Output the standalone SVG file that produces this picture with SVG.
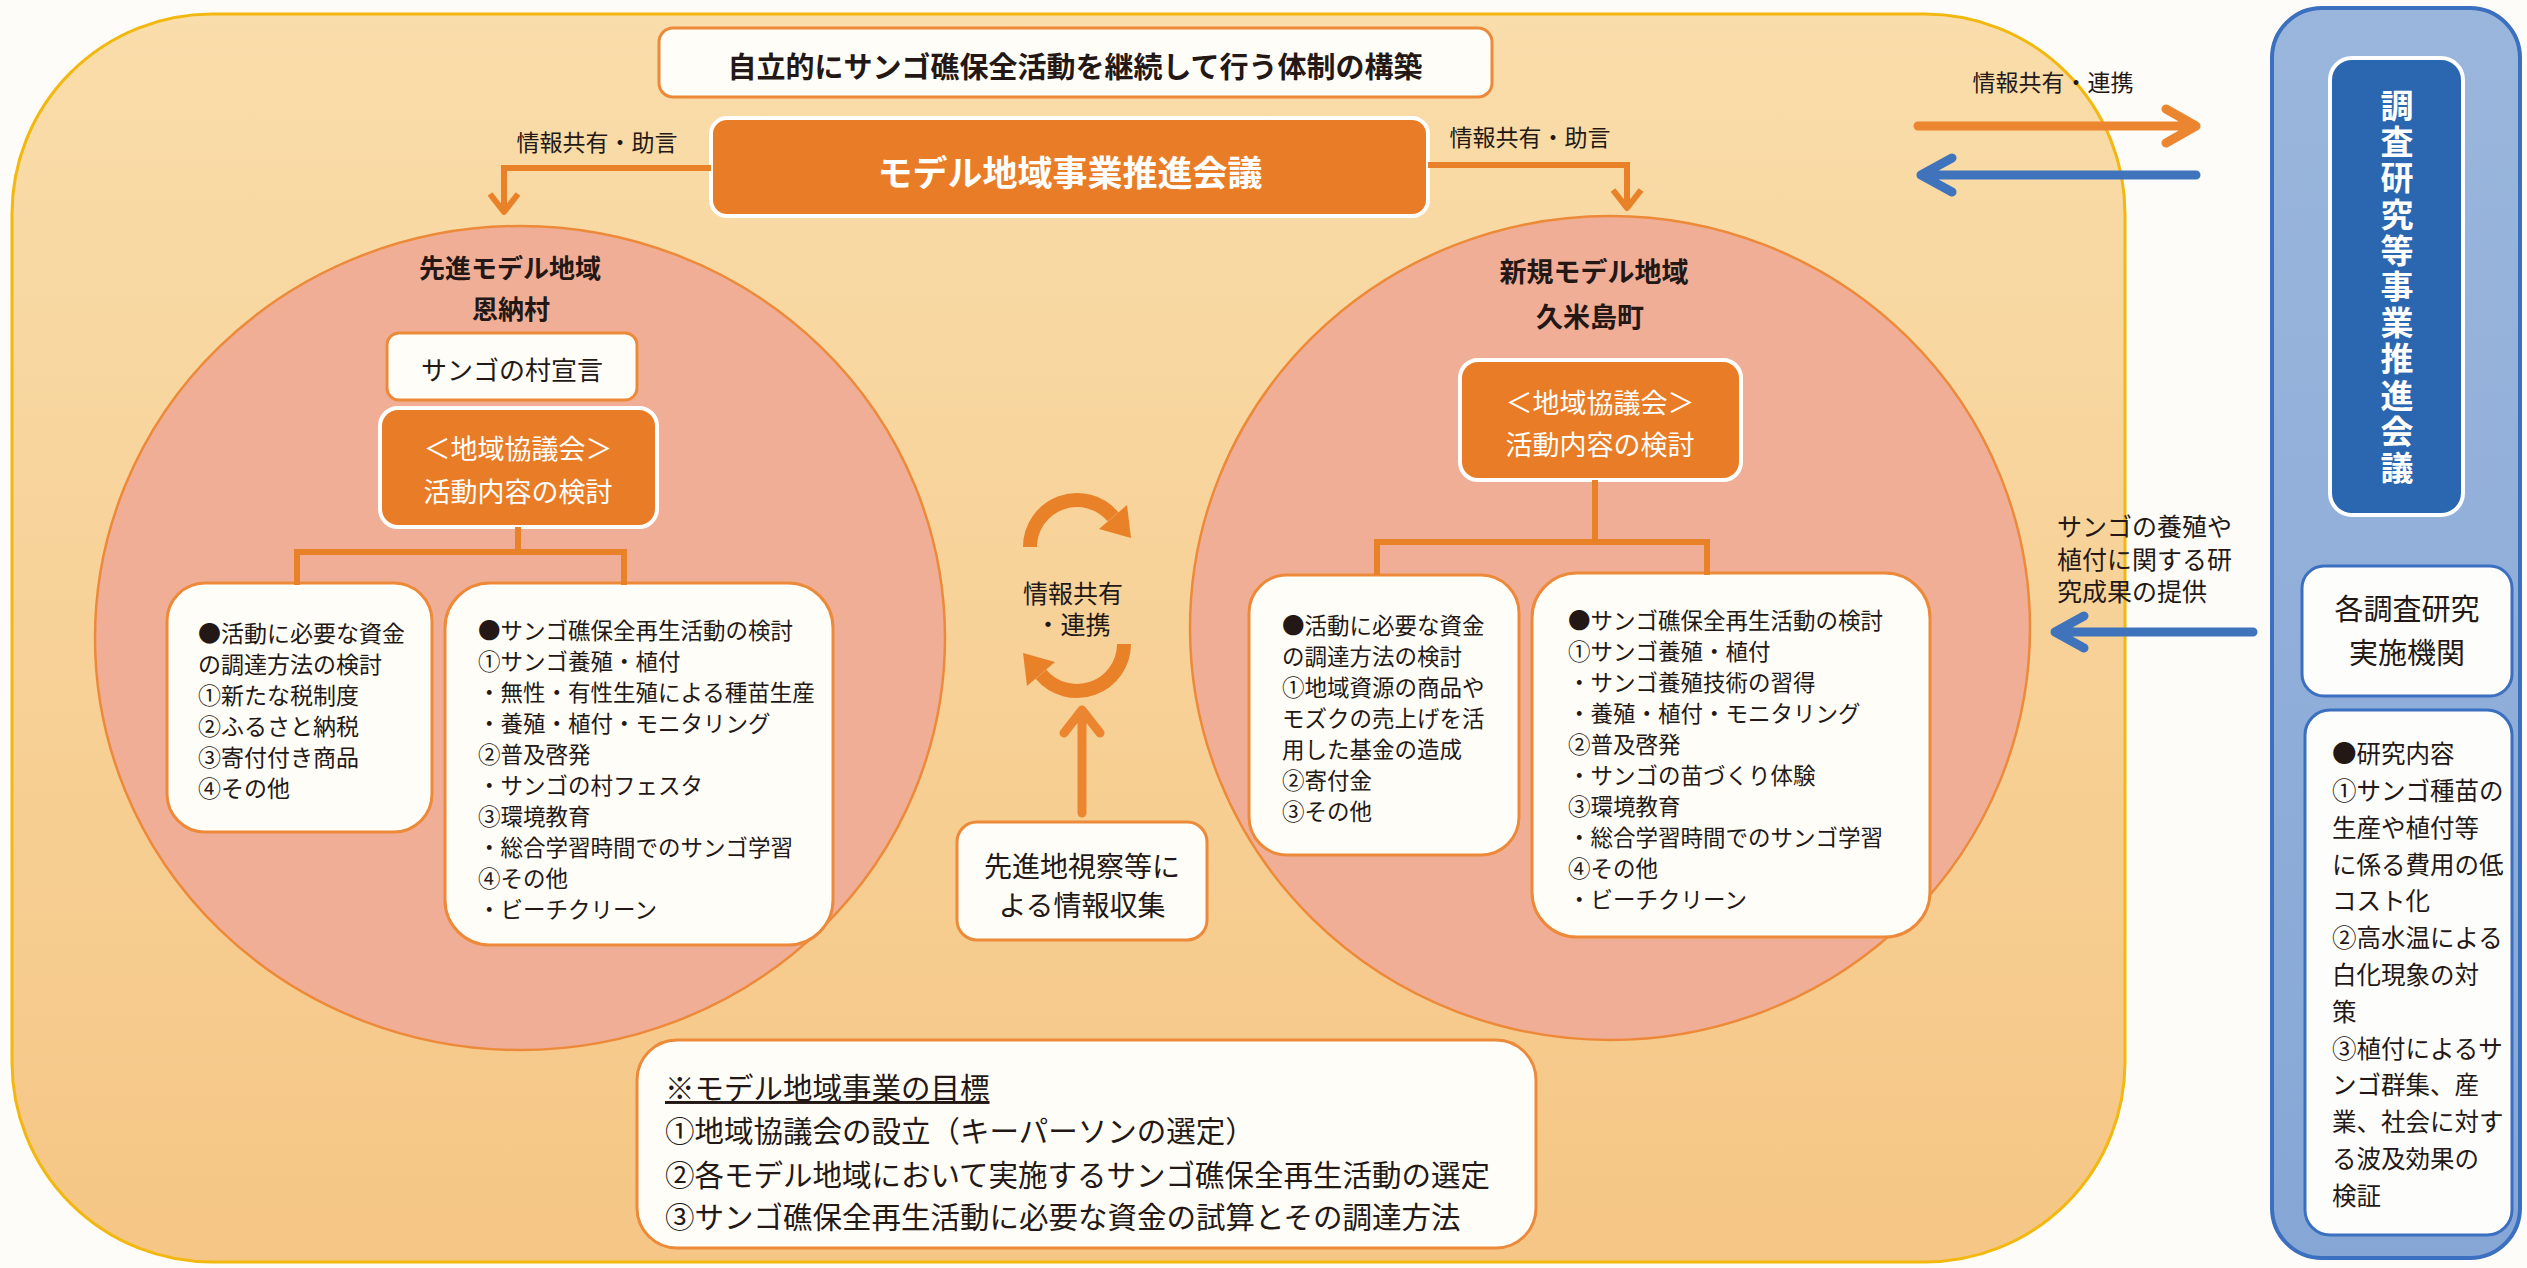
<svg xmlns="http://www.w3.org/2000/svg" width="2527" height="1268" viewBox="0 0 2527 1268">
<defs>
<linearGradient id="bgGrad" x1="0" y1="0" x2="0" y2="1">
<stop offset="0" stop-color="#f9ddaa"/>
<stop offset="1" stop-color="#f5c685"/>
</linearGradient>
<linearGradient id="blueGrad" x1="0" y1="0" x2="0" y2="1">
<stop offset="0" stop-color="#9ab6dc"/>
<stop offset="1" stop-color="#86a7d6"/>
</linearGradient>
<style>
.t{font-family:"Noto Sans CJK JP","Noto Sans CJK SC",sans-serif;fill:#231815}
.b{font-weight:bold}
.w{fill:#ffffff}
.m{text-anchor:middle}
.obox{fill:#e97d27;stroke:#ffffff;stroke-width:4}
.wbox{fill:#fffdf7;stroke:#ec8a3a;stroke-width:3}
.bbox{fill:#fdfdfb;stroke:#3b6fbf;stroke-width:3}
.circ{fill:#f1ae96;stroke:#ec8a3a;stroke-width:2.5}
.conn{fill:none;stroke:#e98129;stroke-width:6}
.arO{fill:none;stroke:#ec8530;stroke-width:9;stroke-linecap:round;stroke-linejoin:round}
.arB{fill:none;stroke:#3f74bd;stroke-width:9;stroke-linecap:round;stroke-linejoin:round}
</style>
</defs>
<rect x="0" y="0" width="2527" height="1268" fill="#fdfcf8"/>

<g id="background-area">
<rect x="12" y="14" width="2113" height="1248" rx="200" ry="200" fill="url(#bgGrad)" stroke="#f3b80f" stroke-width="3"/>
</g>

<g id="title-box">
<rect x="659" y="28" width="833" height="69" rx="14" class="wbox"/>
<text x="1075" y="78" class="t b m" font-size="29">自立的にサンゴ礁保全活動を継続して行う体制の構築</text>
</g>

<g id="model-council">
<rect x="711" y="118" width="717" height="98" rx="16" class="obox"/>
<text x="1070" y="186" class="t b m w" font-size="35">モデル地域事業推進会議</text>
</g>

<g id="left-region">
<ellipse cx="520" cy="638" rx="425" ry="412" class="circ"/>
<text x="510" y="278" class="t b m" font-size="26">先進モデル地域</text>
<text x="511" y="319" class="t b m" font-size="26">恩納村</text>
</g>

<g id="left-declaration">
<rect x="387" y="333" width="250" height="67" rx="12" class="wbox"/>
<text x="512" y="380" class="t m" font-size="26">サンゴの村宣言</text>
</g>

<g id="left-council">
<rect x="380" y="408" width="277" height="119" rx="18" class="obox"/>
<text x="518" y="459" class="t m w" font-size="27">＜地域協議会＞</text>
<text x="518" y="502" class="t m w" font-size="27">活動内容の検討</text>
</g>

<g id="left-funding">
<rect x="167" y="583" width="265" height="249" rx="38" class="wbox"/>
<text class="t" font-size="23">
<tspan x="198" y="642">●活動に必要な資金</tspan>
<tspan x="198" y="673">の調達方法の検討</tspan>
<tspan x="198" y="704">①新たな税制度</tspan>
<tspan x="198" y="735">②ふるさと納税</tspan>
<tspan x="198" y="766">③寄付付き商品</tspan>
<tspan x="198" y="797">④その他</tspan>
</text>
</g>

<g id="left-activities">
<rect x="445" y="583" width="388" height="362" rx="45" class="wbox"/>
<text class="t" font-size="22.5">
<tspan x="478" y="639">●サンゴ礁保全再生活動の検討</tspan>
<tspan x="478" y="670">①サンゴ養殖・植付</tspan>
<tspan x="478" y="701">・無性・有性生殖による種苗生産</tspan>
<tspan x="478" y="732">・養殖・植付・モニタリング</tspan>
<tspan x="478" y="763">②普及啓発</tspan>
<tspan x="478" y="794">・サンゴの村フェスタ</tspan>
<tspan x="478" y="825">③環境教育</tspan>
<tspan x="478" y="856">・総合学習時間でのサンゴ学習</tspan>
<tspan x="478" y="887">④その他</tspan>
<tspan x="478" y="918">・ビーチクリーン</tspan>
</text>
</g>

<g id="right-region">
<ellipse cx="1610" cy="628" rx="420" ry="412" class="circ"/>
<text x="1594" y="282" class="t b m" font-size="27">新規モデル地域</text>
<text x="1590" y="327" class="t b m" font-size="27">久米島町</text>
</g>

<g id="right-council">
<rect x="1460" y="360" width="281" height="120" rx="18" class="obox"/>
<text x="1600" y="413" class="t m w" font-size="27">＜地域協議会＞</text>
<text x="1600" y="455" class="t m w" font-size="27">活動内容の検討</text>
</g>

<g id="right-funding">
<rect x="1249" y="575" width="270" height="280" rx="38" class="wbox"/>
<text class="t" font-size="22.5">
<tspan x="1282" y="634">●活動に必要な資金</tspan>
<tspan x="1282" y="665">の調達方法の検討</tspan>
<tspan x="1282" y="696">①地域資源の商品や</tspan>
<tspan x="1282" y="727">モズクの売上げを活</tspan>
<tspan x="1282" y="758">用した基金の造成</tspan>
<tspan x="1282" y="789">②寄付金</tspan>
<tspan x="1282" y="820">③その他</tspan>
</text>
</g>

<g id="right-activities">
<rect x="1532" y="573" width="398" height="364" rx="45" class="wbox"/>
<text class="t" font-size="22.5">
<tspan x="1568" y="629">●サンゴ礁保全再生活動の検討</tspan>
<tspan x="1568" y="660">①サンゴ養殖・植付</tspan>
<tspan x="1568" y="691">・サンゴ養殖技術の習得</tspan>
<tspan x="1568" y="722">・養殖・植付・モニタリング</tspan>
<tspan x="1568" y="753">②普及啓発</tspan>
<tspan x="1568" y="784">・サンゴの苗づくり体験</tspan>
<tspan x="1568" y="815">③環境教育</tspan>
<tspan x="1568" y="846">・総合学習時間でのサンゴ学習</tspan>
<tspan x="1568" y="877">④その他</tspan>
<tspan x="1568" y="908">・ビーチクリーン</tspan>
</text>
</g>

<g id="exchange-label">
<text x="1073" y="603" class="t m" font-size="25">情報共有</text>
<text x="1073" y="634" class="t m" font-size="25">・連携</text>
</g>

<g id="site-visit">
<rect x="957" y="822" width="250" height="118" rx="20" class="wbox"/>
<text x="1082" y="877" class="t m" font-size="28">先進地視察等に</text>
<text x="1082" y="916" class="t m" font-size="28">よる情報収集</text>
</g>

<g id="goals">
<rect x="637" y="1040" width="899" height="208" rx="40" class="wbox"/>
<text class="t" font-size="29.5">
<tspan x="665" y="1099" text-decoration="underline">※モデル地域事業の目標</tspan>
<tspan x="665" y="1142">①地域協議会の設立（キーパーソンの選定）</tspan>
<tspan x="665" y="1186">②各モデル地域において実施するサンゴ礁保全再生活動の選定</tspan>
<tspan x="665" y="1228">③サンゴ礁保全再生活動に必要な資金の試算とその調達方法</tspan>
</text>
</g>

<g id="research-panel">
<rect x="2272" y="8" width="248" height="1250" rx="50" fill="url(#blueGrad)" stroke="#3b6fbf" stroke-width="4"/>
</g>

<g id="research-council">
<rect x="2330" y="58" width="133" height="457" rx="22" fill="#2b66b0" stroke="#ffffff" stroke-width="4"/>
<text x="2397" y="89" class="t b w" font-size="33" letter-spacing="3.2" style="writing-mode:vertical-rl">調査研究等事業推進会議</text>
</g>

<g id="research-institutions">
<rect x="2302" y="566" width="210" height="130" rx="22" class="bbox"/>
<text x="2407" y="620" class="t m" font-size="29">各調査研究</text>
<text x="2407" y="664" class="t m" font-size="29">実施機関</text>
</g>

<g id="research-content">
<rect x="2305" y="710" width="207" height="525" rx="25" class="bbox"/>
<text class="t" font-size="24.5">
<tspan x="2332" y="763">●研究内容</tspan>
<tspan x="2332" y="800">①サンゴ種苗の</tspan>
<tspan x="2332" y="837">生産や植付等</tspan>
<tspan x="2332" y="874">に係る費用の低</tspan>
<tspan x="2332" y="910">コスト化</tspan>
<tspan x="2332" y="947">②高水温による</tspan>
<tspan x="2332" y="984">白化現象の対</tspan>
<tspan x="2332" y="1021">策</tspan>
<tspan x="2332" y="1058">③植付によるサ</tspan>
<tspan x="2332" y="1094">ンゴ群集、産</tspan>
<tspan x="2332" y="1131">業、社会に対す</tspan>
<tspan x="2332" y="1168">る波及効果の</tspan>
<tspan x="2332" y="1205">検証</tspan>
</text>
</g>

<g id="connectors">
<path class="conn" d="M711,168 H504 V210"/>
<path class="conn" d="M490,194 L504,212 L518,194" stroke-linejoin="round"/>
<path class="conn" d="M1428,165 H1627 V206"/>
<path class="conn" d="M1613,190 L1627,208 L1641,190" stroke-linejoin="round"/>
<path class="conn" d="M518,527 V552 M297,552 H624 M297,549 V585 M624,549 V585"/>
<path class="conn" d="M1595,480 V542 M1377,542 H1707 M1377,539 V575 M1707,539 V575"/>
<path class="arO" d="M1918,126 H2192 M2166,109 L2196,126 L2166,143"/>
<path class="arB" d="M2196,175 H1924 M1952,158 L1921,175 L1952,192"/>
<path class="arB" d="M2253,632 H2058 M2084,616 L2055,632 L2084,648"/>
<path class="arO" d="M1082,813 V712 M1064,733 L1082,710 L1100,733"/>
<g id="cycle-arrows" fill="#e98129">
<path d="M1030,547 A47,47 0 0 1 1113,516.8" fill="none" stroke="#e98129" stroke-width="14"/>
<polygon points="1099,529 1127,505 1131,538"/>
<g transform="rotate(180 1077 595.5)">
<path d="M1030,547 A47,47 0 0 1 1113,516.8" fill="none" stroke="#e98129" stroke-width="14"/>
<polygon points="1099,529 1127,505 1131,538"/>
</g>
</g>
</g>

<g id="labels">
<text x="597" y="151" class="t m" font-size="23">情報共有・助言</text>
<text x="1530" y="146" class="t m" font-size="23">情報共有・助言</text>
<text x="2053" y="91" class="t m" font-size="23">情報共有・連携</text>
<text class="t" font-size="25">
<tspan x="2057" y="536">サンゴの養殖や</tspan>
<tspan x="2057" y="569">植付に関する研</tspan>
<tspan x="2057" y="601">究成果の提供</tspan>
</text>
</g>
</svg>
